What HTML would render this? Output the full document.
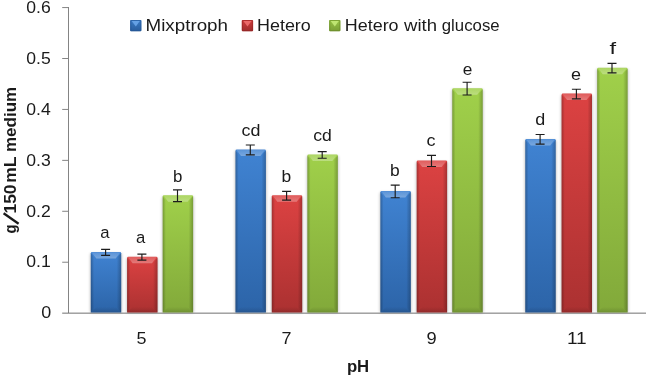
<!DOCTYPE html>
<html><head><meta charset="utf-8"><title>chart</title>
<style>html,body{margin:0;padding:0;background:#fff;}body{width:647px;height:378px;overflow:hidden;font-family:"Liberation Sans",sans-serif;}svg{display:block;will-change:transform;}</style>
</head><body>
<svg width="647" height="378" viewBox="0 0 647 378">
<defs>
<linearGradient id="gb" x1="0" y1="0" x2="0" y2="1"><stop offset="0" stop-color="#4083d2"/><stop offset="1" stop-color="#2c64a8"/></linearGradient>
<linearGradient id="gr" x1="0" y1="0" x2="0" y2="1"><stop offset="0" stop-color="#dc4242"/><stop offset="1" stop-color="#ab3131"/></linearGradient>
<linearGradient id="gg" x1="0" y1="0" x2="0" y2="1"><stop offset="0" stop-color="#a0d04a"/><stop offset="1" stop-color="#82a93a"/></linearGradient>
<linearGradient id="sl" x1="0" y1="0" x2="1" y2="0"><stop offset="0" stop-color="#000" stop-opacity=".24"/><stop offset="1" stop-color="#000" stop-opacity="0"/></linearGradient>
<linearGradient id="sr" x1="1" y1="0" x2="0" y2="0"><stop offset="0" stop-color="#000" stop-opacity=".24"/><stop offset="1" stop-color="#000" stop-opacity="0"/></linearGradient>
<linearGradient id="st" x1="0" y1="0" x2="0" y2="1"><stop offset="0" stop-color="#fff" stop-opacity=".14"/><stop offset="1" stop-color="#fff" stop-opacity=".30"/></linearGradient>
<linearGradient id="sb" x1="0" y1="1" x2="0" y2="0"><stop offset="0" stop-color="#000" stop-opacity=".14"/><stop offset="1" stop-color="#000" stop-opacity="0"/></linearGradient>
<filter id="sh" x="-30%" y="-10%" width="160%" height="120%"><feGaussianBlur stdDeviation="1.6"/></filter>
<filter id="b1" x="-20%" y="-20%" width="140%" height="140%"><feGaussianBlur stdDeviation=".55"/></filter>
</defs>
<rect width="647" height="378" fill="#fff"/>
<rect x="90.3" y="253.5" width="31.4" height="58.9" fill="#000" opacity=".26" filter="url(#sh)"/>
<rect x="126.6" y="258.2" width="31.4" height="54.2" fill="#000" opacity=".26" filter="url(#sh)"/>
<rect x="162.2" y="196.8" width="31.4" height="115.6" fill="#000" opacity=".26" filter="url(#sh)"/>
<rect x="235.0" y="151.0" width="31.4" height="161.4" fill="#000" opacity=".26" filter="url(#sh)"/>
<rect x="271.3" y="196.8" width="31.4" height="115.6" fill="#000" opacity=".26" filter="url(#sh)"/>
<rect x="306.9" y="156.0" width="31.4" height="156.4" fill="#000" opacity=".26" filter="url(#sh)"/>
<rect x="379.9" y="192.5" width="31.4" height="119.9" fill="#000" opacity=".26" filter="url(#sh)"/>
<rect x="416.2" y="162.0" width="31.4" height="150.4" fill="#000" opacity=".26" filter="url(#sh)"/>
<rect x="451.8" y="89.7" width="31.4" height="222.8" fill="#000" opacity=".26" filter="url(#sh)"/>
<rect x="524.8" y="140.4" width="31.4" height="172.0" fill="#000" opacity=".26" filter="url(#sh)"/>
<rect x="561.1" y="95.1" width="31.4" height="217.3" fill="#000" opacity=".26" filter="url(#sh)"/>
<rect x="596.7" y="69.2" width="31.4" height="243.2" fill="#000" opacity=".26" filter="url(#sh)"/>
<g stroke="#848484" stroke-width="1" fill="none">
<path d="M68.5 7.2V313.4" shape-rendering="crispEdges"/>
<path d="M62.2 313.15H646" stroke="#707070"/>
<path d="M62.2 262.22H68.5"/>
<path d="M62.2 211.29H68.5"/>
<path d="M62.2 160.36H68.5"/>
<path d="M62.2 109.43H68.5"/>
<path d="M62.2 58.50H68.5"/>
<path d="M62.2 7.57H68.5"/>
</g>
<g>
<path d="M90.8 312.4V253.3Q90.8 252.0 92.1 252.0H119.9Q121.2 252.0 121.2 253.3V312.4Z" fill="url(#gb)"/>
<polygon points="91.6,252.3 120.4,252.3 115.7,258.5 96.3,258.5" fill="url(#st)"/>
<polygon points="90.8,253.0 94.0,257.2 94.0,309.2 90.8,312.4" fill="url(#sl)"/>
<polygon points="121.2,253.0 116.7,258.0 116.7,307.9 121.2,312.4" fill="url(#sr)"/>
<polygon points="90.8,312.4 121.2,312.4 115.7,306.9 96.3,306.9" fill="url(#sb)"/>
</g>
<g>
<path d="M127.1 312.4V258.0Q127.1 256.7 128.4 256.7H156.2Q157.5 256.7 157.5 258.0V312.4Z" fill="url(#gr)"/>
<polygon points="127.9,257.0 156.7,257.0 152.0,263.2 132.6,263.2" fill="url(#st)"/>
<polygon points="127.1,257.7 130.3,261.9 130.3,309.2 127.1,312.4" fill="url(#sl)"/>
<polygon points="157.5,257.7 153.0,262.7 153.0,307.9 157.5,312.4" fill="url(#sr)"/>
<polygon points="127.1,312.4 157.5,312.4 152.0,306.9 132.6,306.9" fill="url(#sb)"/>
</g>
<g>
<path d="M162.7 312.4V196.6Q162.7 195.3 164.0 195.3H191.8Q193.1 195.3 193.1 196.6V312.4Z" fill="url(#gg)"/>
<polygon points="163.5,195.6 192.3,195.6 187.6,201.8 168.2,201.8" fill="url(#st)"/>
<polygon points="162.7,196.3 165.9,200.5 165.9,309.2 162.7,312.4" fill="url(#sl)"/>
<polygon points="193.1,196.3 188.6,201.3 188.6,307.9 193.1,312.4" fill="url(#sr)"/>
<polygon points="162.7,312.4 193.1,312.4 187.6,306.9 168.2,306.9" fill="url(#sb)"/>
</g>
<g>
<path d="M235.5 312.4V150.8Q235.5 149.5 236.8 149.5H264.6Q265.9 149.5 265.9 150.8V312.4Z" fill="url(#gb)"/>
<polygon points="236.3,149.8 265.1,149.8 260.4,156.0 241.0,156.0" fill="url(#st)"/>
<polygon points="235.5,150.5 238.7,154.7 238.7,309.2 235.5,312.4" fill="url(#sl)"/>
<polygon points="265.9,150.5 261.4,155.5 261.4,307.9 265.9,312.4" fill="url(#sr)"/>
<polygon points="235.5,312.4 265.9,312.4 260.4,306.9 241.0,306.9" fill="url(#sb)"/>
</g>
<g>
<path d="M271.8 312.4V196.6Q271.8 195.3 273.1 195.3H300.9Q302.2 195.3 302.2 196.6V312.4Z" fill="url(#gr)"/>
<polygon points="272.6,195.6 301.4,195.6 296.7,201.8 277.3,201.8" fill="url(#st)"/>
<polygon points="271.8,196.3 275.0,200.5 275.0,309.2 271.8,312.4" fill="url(#sl)"/>
<polygon points="302.2,196.3 297.7,201.3 297.7,307.9 302.2,312.4" fill="url(#sr)"/>
<polygon points="271.8,312.4 302.2,312.4 296.7,306.9 277.3,306.9" fill="url(#sb)"/>
</g>
<g>
<path d="M307.4 312.4V155.8Q307.4 154.5 308.7 154.5H336.5Q337.8 154.5 337.8 155.8V312.4Z" fill="url(#gg)"/>
<polygon points="308.2,154.8 337.0,154.8 332.3,161.0 312.9,161.0" fill="url(#st)"/>
<polygon points="307.4,155.5 310.6,159.7 310.6,309.2 307.4,312.4" fill="url(#sl)"/>
<polygon points="337.8,155.5 333.3,160.5 333.3,307.9 337.8,312.4" fill="url(#sr)"/>
<polygon points="307.4,312.4 337.8,312.4 332.3,306.9 312.9,306.9" fill="url(#sb)"/>
</g>
<g>
<path d="M380.4 312.4V192.3Q380.4 191.0 381.7 191.0H409.5Q410.8 191.0 410.8 192.3V312.4Z" fill="url(#gb)"/>
<polygon points="381.2,191.3 410.0,191.3 405.3,197.5 385.9,197.5" fill="url(#st)"/>
<polygon points="380.4,192.0 383.6,196.2 383.6,309.2 380.4,312.4" fill="url(#sl)"/>
<polygon points="410.8,192.0 406.3,197.0 406.3,307.9 410.8,312.4" fill="url(#sr)"/>
<polygon points="380.4,312.4 410.8,312.4 405.3,306.9 385.9,306.9" fill="url(#sb)"/>
</g>
<g>
<path d="M416.7 312.4V161.8Q416.7 160.5 418.0 160.5H445.8Q447.1 160.5 447.1 161.8V312.4Z" fill="url(#gr)"/>
<polygon points="417.5,160.8 446.3,160.8 441.6,167.0 422.2,167.0" fill="url(#st)"/>
<polygon points="416.7,161.5 419.9,165.7 419.9,309.2 416.7,312.4" fill="url(#sl)"/>
<polygon points="447.1,161.5 442.6,166.5 442.6,307.9 447.1,312.4" fill="url(#sr)"/>
<polygon points="416.7,312.4 447.1,312.4 441.6,306.9 422.2,306.9" fill="url(#sb)"/>
</g>
<g>
<path d="M452.3 312.4V89.5Q452.3 88.2 453.6 88.2H481.4Q482.7 88.2 482.7 89.5V312.4Z" fill="url(#gg)"/>
<polygon points="453.1,88.5 481.9,88.5 477.2,94.7 457.8,94.7" fill="url(#st)"/>
<polygon points="452.3,89.2 455.5,93.4 455.5,309.2 452.3,312.4" fill="url(#sl)"/>
<polygon points="482.7,89.2 478.2,94.2 478.2,307.9 482.7,312.4" fill="url(#sr)"/>
<polygon points="452.3,312.4 482.7,312.4 477.2,306.9 457.8,306.9" fill="url(#sb)"/>
</g>
<g>
<path d="M525.3 312.4V140.2Q525.3 138.9 526.6 138.9H554.4Q555.7 138.9 555.7 140.2V312.4Z" fill="url(#gb)"/>
<polygon points="526.1,139.2 554.9,139.2 550.2,145.4 530.8,145.4" fill="url(#st)"/>
<polygon points="525.3,139.9 528.5,144.1 528.5,309.2 525.3,312.4" fill="url(#sl)"/>
<polygon points="555.7,139.9 551.2,144.9 551.2,307.9 555.7,312.4" fill="url(#sr)"/>
<polygon points="525.3,312.4 555.7,312.4 550.2,306.9 530.8,306.9" fill="url(#sb)"/>
</g>
<g>
<path d="M561.6 312.4V94.9Q561.6 93.6 562.9 93.6H590.7Q592.0 93.6 592.0 94.9V312.4Z" fill="url(#gr)"/>
<polygon points="562.4,93.9 591.2,93.9 586.5,100.1 567.1,100.1" fill="url(#st)"/>
<polygon points="561.6,94.6 564.8,98.8 564.8,309.2 561.6,312.4" fill="url(#sl)"/>
<polygon points="592.0,94.6 587.5,99.6 587.5,307.9 592.0,312.4" fill="url(#sr)"/>
<polygon points="561.6,312.4 592.0,312.4 586.5,306.9 567.1,306.9" fill="url(#sb)"/>
</g>
<g>
<path d="M597.2 312.4V69.0Q597.2 67.7 598.5 67.7H626.3Q627.6 67.7 627.6 69.0V312.4Z" fill="url(#gg)"/>
<polygon points="598.0,68.0 626.8,68.0 622.1,74.2 602.7,74.2" fill="url(#st)"/>
<polygon points="597.2,68.7 600.4,72.9 600.4,309.2 597.2,312.4" fill="url(#sl)"/>
<polygon points="627.6,68.7 623.1,73.7 623.1,307.9 627.6,312.4" fill="url(#sr)"/>
<polygon points="597.2,312.4 627.6,312.4 622.1,306.9 602.7,306.9" fill="url(#sb)"/>
</g>
<g stroke="#1c1c1c" stroke-width="1.15" fill="none">
<path d="M105.6 249.4V255.4M101.1 249.4H110.1M101.1 255.4H110.1"/>
<path d="M141.9 254.1V260.1M137.4 254.1H146.4M137.4 260.1H146.4"/>
<path d="M177.5 189.8V201.6M173.0 189.8H182.0M173.0 201.6H182.0"/>
<path d="M250.3 145.0V154.8M245.8 145.0H254.8M245.8 154.8H254.8"/>
<path d="M286.6 191.3V200.1M282.1 191.3H291.1M282.1 200.1H291.1"/>
<path d="M322.2 151.6V158.2M317.7 151.6H326.7M317.7 158.2H326.7"/>
<path d="M395.2 185.1V197.7M390.7 185.1H399.7M390.7 197.7H399.7"/>
<path d="M431.5 155.3V166.5M427.0 155.3H436.0M427.0 166.5H436.0"/>
<path d="M467.1 82.2V95.0M462.6 82.2H471.6M462.6 95.0H471.6"/>
<path d="M540.1 134.5V144.1M535.6 134.5H544.6M535.6 144.1H544.6"/>
<path d="M576.4 89.2V98.8M571.9 89.2H580.9M571.9 98.8H580.9"/>
<path d="M612.0 63.3V72.9M607.5 63.3H616.5M607.5 72.9H616.5"/>
</g>
<g font-family="'Liberation Sans', sans-serif" fill="#1a1a1a">
<text x="41.2" y="317.8" font-size="16.8" text-anchor="start" textLength="10.0" lengthAdjust="spacingAndGlyphs">0</text>
<text x="26.2" y="267.4" font-size="16.8" text-anchor="start" textLength="24.5" lengthAdjust="spacingAndGlyphs">0.1</text>
<text x="26.2" y="216.5" font-size="16.8" text-anchor="start" textLength="24.5" lengthAdjust="spacingAndGlyphs">0.2</text>
<text x="26.2" y="165.6" font-size="16.8" text-anchor="start" textLength="24.5" lengthAdjust="spacingAndGlyphs">0.3</text>
<text x="26.2" y="114.6" font-size="16.8" text-anchor="start" textLength="24.5" lengthAdjust="spacingAndGlyphs">0.4</text>
<text x="26.2" y="63.7" font-size="16.8" text-anchor="start" textLength="24.5" lengthAdjust="spacingAndGlyphs">0.5</text>
<text x="26.2" y="12.8" font-size="16.8" text-anchor="start" textLength="24.5" lengthAdjust="spacingAndGlyphs">0.6</text>
<text x="136.5" y="343.7" font-size="16.8" text-anchor="start" textLength="10.0" lengthAdjust="spacingAndGlyphs">5</text>
<text x="281.4" y="343.7" font-size="16.8" text-anchor="start" textLength="10.0" lengthAdjust="spacingAndGlyphs">7</text>
<text x="426.4" y="343.7" font-size="16.8" text-anchor="start" textLength="10.2" lengthAdjust="spacingAndGlyphs">9</text>
<text x="566.9" y="343.7" font-size="16.8" text-anchor="start" textLength="19.8" lengthAdjust="spacingAndGlyphs">11</text>
<text x="100.3" y="237.5" font-size="16.8" text-anchor="start" textLength="9.3" lengthAdjust="spacingAndGlyphs">a</text>
<text x="136.0" y="242.8" font-size="16.8" text-anchor="start" textLength="9.3" lengthAdjust="spacingAndGlyphs">a</text>
<text x="173.0" y="182.0" font-size="16.8" text-anchor="start" textLength="9.4" lengthAdjust="spacingAndGlyphs">b</text>
<text x="241.6" y="135.6" font-size="16.8" text-anchor="start" textLength="18.9" lengthAdjust="spacingAndGlyphs">cd</text>
<text x="281.4" y="182.0" font-size="16.8" text-anchor="start" textLength="9.7" lengthAdjust="spacingAndGlyphs">b</text>
<text x="313.3" y="141.1" font-size="16.8" text-anchor="start" textLength="18.6" lengthAdjust="spacingAndGlyphs">cd</text>
<text x="390.1" y="176.1" font-size="16.8" text-anchor="start" textLength="9.7" lengthAdjust="spacingAndGlyphs">b</text>
<text x="426.5" y="145.8" font-size="16.8" text-anchor="start" textLength="9.0" lengthAdjust="spacingAndGlyphs">c</text>
<text x="462.7" y="74.8" font-size="16.8" text-anchor="start" textLength="9.6" lengthAdjust="spacingAndGlyphs">e</text>
<text x="535.3" y="125.2" font-size="16.8" text-anchor="start" textLength="10.0" lengthAdjust="spacingAndGlyphs">d</text>
<text x="571.1" y="79.6" font-size="16.8" text-anchor="start" textLength="10.0" lengthAdjust="spacingAndGlyphs">e</text>
<text x="609.4" y="54.4" font-size="16.8" text-anchor="start" textLength="6.6" lengthAdjust="spacingAndGlyphs">f</text>
<text x="145.5" y="30.5" font-size="15.6" text-anchor="start" textLength="82.5" lengthAdjust="spacingAndGlyphs">Mixptroph</text>
<text x="257.0" y="30.5" font-size="15.6" text-anchor="start" textLength="53.8" lengthAdjust="spacingAndGlyphs">Hetero</text>
<text x="344.8" y="30.5" font-size="15.6" text-anchor="start" textLength="53.8" lengthAdjust="spacingAndGlyphs">Hetero</text>
<text x="404.0" y="30.5" font-size="15.6" text-anchor="start" textLength="33.0" lengthAdjust="spacingAndGlyphs">with</text>
<text x="441.8" y="30.5" font-size="15.6" text-anchor="start" textLength="57.8" lengthAdjust="spacingAndGlyphs">glucose</text>
<text x="346.9" y="372.4" font-size="15.8" text-anchor="start" textLength="22.3" lengthAdjust="spacingAndGlyphs" font-weight="bold">pH</text>
<g transform="translate(16,233.4) rotate(-90)" font-size="16" font-weight="bold">
<text x="-0.2" y="0" textLength="9.1" lengthAdjust="spacingAndGlyphs">g</text>
<text x="19.9" y="0" textLength="29.0" lengthAdjust="spacingAndGlyphs">150</text>
<text x="50.6" y="0" textLength="26.2" lengthAdjust="spacingAndGlyphs">mL</text>
<text x="81.4" y="0" textLength="65.2" lengthAdjust="spacingAndGlyphs">medium</text>
<path d="M9.6 2.6L20.2 -12.4" stroke="#1a1a1a" stroke-width="2.3" fill="none"/>
</g>
</g>
<rect x="130.1" y="19.9" width="11.3" height="11.3" rx=".8" fill="url(#gb)"/>
<rect x="130.1" y="19.9" width="11.3" height="11.3" rx=".8" fill="#000" opacity=".06"/>
<polygon points="131.7,21.1 139.8,21.1 135.8,26.5" fill="#6aa6ea" opacity=".9" filter="url(#b1)"/>
<rect x="130.7" y="20.5" width="10.1" height="10.1" rx=".5" fill="none" stroke="#1f4f8c" stroke-opacity=".42" stroke-width="1.2"/>
<rect x="241.8" y="19.9" width="11.3" height="11.3" rx=".8" fill="url(#gr)"/>
<rect x="241.8" y="19.9" width="11.3" height="11.3" rx=".8" fill="#000" opacity=".06"/>
<polygon points="243.4,21.1 251.5,21.1 247.5,26.5" fill="#f07070" opacity=".9" filter="url(#b1)"/>
<rect x="242.4" y="20.5" width="10.1" height="10.1" rx=".5" fill="none" stroke="#8a2020" stroke-opacity=".42" stroke-width="1.2"/>
<rect x="329.1" y="19.9" width="11.3" height="11.3" rx=".8" fill="url(#gg)"/>
<rect x="329.1" y="19.9" width="11.3" height="11.3" rx=".8" fill="#000" opacity=".06"/>
<polygon points="330.7,21.1 338.8,21.1 334.8,26.5" fill="#c4ea78" opacity=".9" filter="url(#b1)"/>
<rect x="329.7" y="20.5" width="10.1" height="10.1" rx=".5" fill="none" stroke="#5f7f22" stroke-opacity=".42" stroke-width="1.2"/>
</svg>
</body></html>
